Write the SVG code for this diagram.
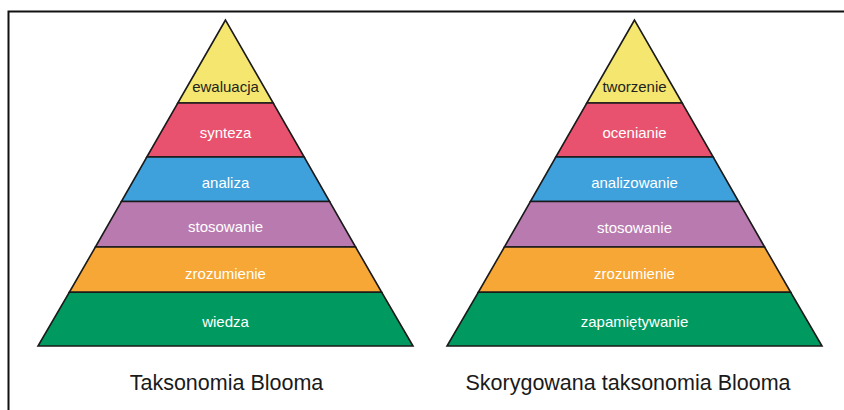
<svg xmlns="http://www.w3.org/2000/svg" width="844" height="410" viewBox="0 0 844 410">
<style>
.band{stroke:#1a1a1a;stroke-width:1.6;stroke-linejoin:miter}
.lbl{font-family:"Liberation Sans",Arial,sans-serif;font-size:15px;fill:#ffffff;text-anchor:middle}
.dark{fill:#231f20}
.cap{font-family:"Liberation Sans",Arial,sans-serif;font-size:21.5px;fill:#1a1a1a;text-anchor:middle}
.y{fill:#f4e66e}.r{fill:#e9526f}.b{fill:#3ea1db}.p{fill:#b97ab0}.o{fill:#f6a735}.g{fill:#009a61}
</style>
<rect width="844" height="410" fill="#ffffff"/>
<path d="M8.5,410 V11.5 H844" fill="none" stroke="#111" stroke-width="2"/>
<g id="pyramid-left">
  <g id="l-ewaluacja"><polygon class="band y" points="225.5,20 177.8,103 273.2,103"/><text class="lbl dark" x="225.5" y="92">ewaluacja</text></g>
  <g id="l-synteza"><polygon class="band r" points="177.8,103 273.2,103 304.2,157 146.8,157"/><text class="lbl" x="225.5" y="137.5">synteza</text></g>
  <g id="l-analiza"><polygon class="band b" points="146.8,157 304.2,157 329.6,201.5 121.4,201.5"/><text class="lbl" x="225.5" y="187.5">analiza</text></g>
  <g id="l-stosowanie"><polygon class="band p" points="121.4,201.5 329.6,201.5 355.6,247 95.4,247"/><text class="lbl" x="225.5" y="232">stosowanie</text></g>
  <g id="l-zrozumienie"><polygon class="band o" points="95.4,247 355.6,247 381.7,292.3 69.3,292.3"/><text class="lbl" x="225.5" y="278.5">zrozumienie</text></g>
  <g id="l-wiedza"><polygon class="band g" points="69.3,292.3 381.7,292.3 413,346 38,346"/><text class="lbl" x="225.5" y="327">wiedza</text></g>
</g>
<g id="pyramid-right">
  <g id="r-tworzenie"><polygon class="band y" points="634.5,20 586.8,103 682.2,103"/><text class="lbl dark" x="634.5" y="92">tworzenie</text></g>
  <g id="r-ocenianie"><polygon class="band r" points="586.8,103 682.2,103 713.2,157 555.8,157"/><text class="lbl" x="634.5" y="137.5">ocenianie</text></g>
  <g id="r-analizowanie"><polygon class="band b" points="555.8,157 713.2,157 738.6,201.5 530.4,201.5"/><text class="lbl" x="634.5" y="187.5">analizowanie</text></g>
  <g id="r-stosowanie"><polygon class="band p" points="530.4,201.5 738.6,201.5 764.6,247 504.4,247"/><text class="lbl" x="634.5" y="232.5">stosowanie</text></g>
  <g id="r-zrozumienie"><polygon class="band o" points="504.4,247 764.6,247 790.7,292.3 478.3,292.3"/><text class="lbl" x="634.5" y="278.5">zrozumienie</text></g>
  <g id="r-zapamietywanie"><polygon class="band g" points="478.3,292.3 790.7,292.3 822,346 447,346"/><text class="lbl" x="634.5" y="327">zapamiętywanie</text></g>
</g>
<g id="connectors"></g>
<text class="cap" x="226.5" y="390">Taksonomia Blooma</text>
<text class="cap" x="628" y="390">Skorygowana taksonomia Blooma</text>
</svg>
